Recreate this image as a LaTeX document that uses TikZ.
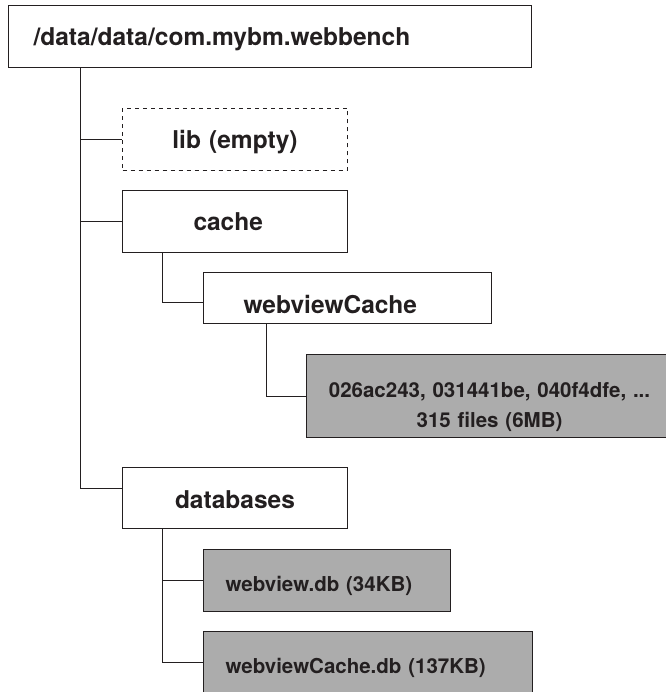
\documentclass[tikz,border=0pt]{standalone}
\usepackage{fontspec}
\setmainfont{TeX Gyre Heros}
\usepackage{tikz}
\usetikzlibrary{positioning}
\definecolor{inkc}{HTML}{231F20}
\definecolor{fileg}{HTML}{ACACAC}

\begin{document}
\begin{tikzpicture}[x=1pt,y=-1pt]
		\tikzstyle{dirbox}=[draw=inkc,fill=white,line width=1pt,anchor=north west,inner ysep=0pt,text=inkc,font=\fontsize{24.5}{29}\selectfont\bfseries,text height=19pt,text depth=0pt]
		\tikzstyle{filebox}=[dirbox,fill=fileg,font=\fontsize{20.5}{30}\selectfont\bfseries,text height=21pt]
		\tikzstyle{conn}=[draw=inkc,line width=1pt]

		\useasboundingbox (0,0) rectangle (665,692);

		\node[dirbox,minimum height=62pt,inner xsep=25pt,text width=473pt,align=left] (root) at (8,5) {/data/data/com.mybm.webbench};
		\node[dirbox,dash pattern=on 4pt off 4pt,minimum height=62pt,inner xsep=0pt,text width=225pt,align=center] (lib) at (122,108) {lib (empty)};
		\node[dirbox,minimum height=62pt,inner xsep=71pt,text width=83pt,align=left] (cache) at (122,190) {cache};
		\node[dirbox,minimum height=51pt,inner xsep=40pt,text width=208pt,align=left,text height=31pt] (wvc) at (203,272) {webviewCache};
		\node[filebox,minimum height=83pt,inner xsep=10pt,text width=346pt,align=center,text height=33pt,text depth=30pt] (files) at (306,354) {026ac243, 031441be, 040f4dfe, ...\\315 files (6MB)};
		\node[dirbox,minimum height=61pt,inner xsep=0pt,text width=225pt,align=center,text height=21pt] (dbs) at (122,467) {databases};
		\node[filebox,minimum height=62pt,inner xsep=22pt,text width=203pt,align=left] (wvdb) at (203,549) {webview.db (34KB)};
		\node[filebox,minimum height=62pt,inner xsep=22pt,text width=285pt,align=left] (wvcdb) at (203,631) {webviewCache.db (137KB)};

		\draw[conn] ([xshift=72pt]root.south west) |- (lib.west);
		\draw[conn] ([xshift=72pt]root.south west) |- (cache.west);
		\draw[conn] ([xshift=72pt]root.south west) |- ([yshift=9.5pt]dbs.west);

		\draw[conn] ([xshift=40pt]cache.south west) |- ([yshift=-4.5pt]wvc.west);
		\draw[conn] ([xshift=63pt]wvc.south west) |- (files.west);

		\draw[conn] ([xshift=40pt]dbs.south west) |- (wvdb.west);
		\draw[conn] ([xshift=40pt]dbs.south west) |- (wvcdb.west);
	\end{tikzpicture}
\end{document}
